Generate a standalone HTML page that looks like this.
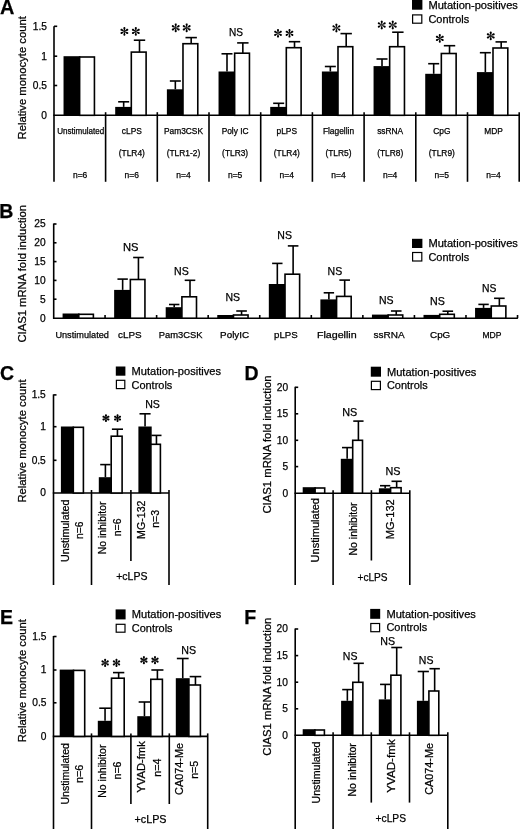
<!DOCTYPE html>
<html><head><meta charset="utf-8"><title>Figure</title>
<style>
html,body{margin:0;padding:0;background:#fff;}
body{width:520px;height:829px;overflow:hidden;}
svg{display:block;filter:grayscale(1);}
svg text{font-family:"Liberation Sans", sans-serif;fill:#000;stroke:#000;stroke-width:0.25px;}
svg line{stroke:#000;stroke-linecap:butt;}
</style></head>
<body>
<svg width="520" height="829" viewBox="0 0 520 829">
<rect width="520" height="829" fill="#fff"/>
<text x="0.1" y="14.3" font-size="19.5" font-weight="bold" textLength="14.4" lengthAdjust="spacingAndGlyphs">A</text>
<text x="25.8" y="77.8" font-size="11.2" text-anchor="middle" textLength="123.2" lengthAdjust="spacingAndGlyphs" transform="rotate(-90 25.8 77.8)">Relative monocyte count</text>
<line x1="54" y1="26.2" x2="54" y2="181.8" stroke-width="1.6"/>
<line x1="54" y1="26.3" x2="57.2" y2="26.3" stroke-width="1.6"/>
<text x="47" y="29.6" font-size="10.2" text-anchor="end">1.5</text>
<line x1="54" y1="56.2" x2="57.2" y2="56.2" stroke-width="1.6"/>
<text x="47" y="59.5" font-size="10.2" text-anchor="end">1</text>
<line x1="54" y1="85.5" x2="57.2" y2="85.5" stroke-width="1.6"/>
<text x="47" y="88.8" font-size="10.2" text-anchor="end">0.5</text>
<text x="47" y="118.6" font-size="10.2" text-anchor="end">0</text>
<line x1="53.3" y1="115.3" x2="519.5" y2="115.3" stroke-width="1.6"/>
<line x1="105.6" y1="112.2" x2="105.6" y2="181.8" stroke-width="1.6"/>
<line x1="157.3" y1="112.2" x2="157.3" y2="181.8" stroke-width="1.6"/>
<line x1="209" y1="112.2" x2="209" y2="181.8" stroke-width="1.6"/>
<line x1="260.7" y1="112.2" x2="260.7" y2="181.8" stroke-width="1.6"/>
<line x1="312.4" y1="112.2" x2="312.4" y2="181.8" stroke-width="1.6"/>
<line x1="364.1" y1="112.2" x2="364.1" y2="181.8" stroke-width="1.6"/>
<line x1="415.8" y1="112.2" x2="415.8" y2="181.8" stroke-width="1.6"/>
<line x1="467.5" y1="112.2" x2="467.5" y2="181.8" stroke-width="1.6"/>
<line x1="519.2" y1="112.2" x2="519.2" y2="181.8" stroke-width="1.6"/>
<text x="80.63" y="134.2" font-size="8.4" text-anchor="middle" textLength="47" lengthAdjust="spacingAndGlyphs">Unstimulated</text>
<text x="80.13" y="177.7" font-size="8.4" text-anchor="middle" textLength="14.4" lengthAdjust="spacingAndGlyphs">n=6</text>
<text x="131.81" y="134.2" font-size="8.4" text-anchor="middle">cLPS</text>
<text x="131.81" y="156.2" font-size="8.4" text-anchor="middle">(TLR4)</text>
<text x="131.81" y="177.7" font-size="8.4" text-anchor="middle" textLength="14.4" lengthAdjust="spacingAndGlyphs">n=6</text>
<text x="183.48" y="134.2" font-size="8.4" text-anchor="middle">Pam3CSK</text>
<text x="183.48" y="156.2" font-size="8.4" text-anchor="middle">(TLR1-2)</text>
<text x="183.48" y="177.7" font-size="8.4" text-anchor="middle" textLength="14.4" lengthAdjust="spacingAndGlyphs">n=4</text>
<text x="235.14" y="134.2" font-size="8.4" text-anchor="middle">Poly IC</text>
<text x="235.14" y="156.2" font-size="8.4" text-anchor="middle">(TLR3)</text>
<text x="235.14" y="177.7" font-size="8.4" text-anchor="middle" textLength="14.4" lengthAdjust="spacingAndGlyphs">n=5</text>
<text x="286.81" y="134.2" font-size="8.4" text-anchor="middle">pLPS</text>
<text x="286.81" y="156.2" font-size="8.4" text-anchor="middle">(TLR4)</text>
<text x="286.81" y="177.7" font-size="8.4" text-anchor="middle" textLength="14.4" lengthAdjust="spacingAndGlyphs">n=4</text>
<text x="338.49" y="134.2" font-size="8.4" text-anchor="middle">Flagellin</text>
<text x="338.49" y="156.2" font-size="8.4" text-anchor="middle">(TLR5)</text>
<text x="338.49" y="177.7" font-size="8.4" text-anchor="middle" textLength="14.4" lengthAdjust="spacingAndGlyphs">n=4</text>
<text x="390.16" y="134.2" font-size="8.4" text-anchor="middle">ssRNA</text>
<text x="390.16" y="156.2" font-size="8.4" text-anchor="middle">(TLR8)</text>
<text x="390.16" y="177.7" font-size="8.4" text-anchor="middle" textLength="14.4" lengthAdjust="spacingAndGlyphs">n=4</text>
<text x="441.83" y="134.2" font-size="8.4" text-anchor="middle">CpG</text>
<text x="441.83" y="156.2" font-size="8.4" text-anchor="middle">(TLR9)</text>
<text x="441.83" y="177.7" font-size="8.4" text-anchor="middle" textLength="14.4" lengthAdjust="spacingAndGlyphs">n=5</text>
<text x="493.5" y="134.2" font-size="8.4" text-anchor="middle">MDP</text>
<text x="493.5" y="177.7" font-size="8.4" text-anchor="middle" textLength="14.4" lengthAdjust="spacingAndGlyphs">n=4</text>
<rect x="63.53" y="56.2" width="16.9" height="59.1" fill="#000"/>
<rect x="79.63" y="57" width="14.8" height="58.3" fill="#fff" stroke="#000" stroke-width="1.6"/>
<rect x="115.2" y="106.9" width="16.9" height="8.4" fill="#000"/>
<rect x="131.31" y="52.1" width="14.8" height="63.2" fill="#fff" stroke="#000" stroke-width="1.6"/>
<line x1="123.66" y1="106.9" x2="123.66" y2="101.8" stroke-width="1.6"/>
<line x1="118.16" y1="101.8" x2="129.16" y2="101.8" stroke-width="1.6"/>
<line x1="139.5" y1="52.1" x2="139.5" y2="40.2" stroke-width="1.6"/>
<line x1="133.81" y1="40.2" x2="145.2" y2="40.2" stroke-width="1.6"/>
<rect x="166.88" y="89.3" width="16.9" height="26" fill="#000"/>
<rect x="182.98" y="43.7" width="14.8" height="71.6" fill="#fff" stroke="#000" stroke-width="1.6"/>
<line x1="175.33" y1="89.3" x2="175.33" y2="81" stroke-width="1.6"/>
<line x1="169.83" y1="81" x2="180.83" y2="81" stroke-width="1.6"/>
<line x1="191.18" y1="43.7" x2="191.18" y2="37.6" stroke-width="1.6"/>
<line x1="185.48" y1="37.6" x2="196.88" y2="37.6" stroke-width="1.6"/>
<rect x="218.54" y="71.5" width="16.9" height="43.8" fill="#000"/>
<rect x="234.65" y="53.2" width="14.8" height="62.1" fill="#fff" stroke="#000" stroke-width="1.6"/>
<line x1="227" y1="71.5" x2="227" y2="53.8" stroke-width="1.6"/>
<line x1="221.5" y1="53.8" x2="232.5" y2="53.8" stroke-width="1.6"/>
<line x1="242.84" y1="53.2" x2="242.84" y2="42.9" stroke-width="1.6"/>
<line x1="237.14" y1="42.9" x2="248.54" y2="42.9" stroke-width="1.6"/>
<rect x="270.22" y="106.9" width="16.9" height="8.4" fill="#000"/>
<rect x="286.31" y="47.7" width="14.8" height="67.6" fill="#fff" stroke="#000" stroke-width="1.6"/>
<line x1="278.67" y1="106.9" x2="278.67" y2="103.3" stroke-width="1.6"/>
<line x1="273.17" y1="103.3" x2="284.17" y2="103.3" stroke-width="1.6"/>
<line x1="294.51" y1="47.7" x2="294.51" y2="41.7" stroke-width="1.6"/>
<line x1="288.81" y1="41.7" x2="300.21" y2="41.7" stroke-width="1.6"/>
<rect x="321.89" y="71.5" width="16.9" height="43.8" fill="#000"/>
<rect x="337.99" y="46.7" width="14.8" height="68.6" fill="#fff" stroke="#000" stroke-width="1.6"/>
<line x1="330.34" y1="71.5" x2="330.34" y2="66.5" stroke-width="1.6"/>
<line x1="324.84" y1="66.5" x2="335.84" y2="66.5" stroke-width="1.6"/>
<line x1="346.19" y1="46.7" x2="346.19" y2="33.6" stroke-width="1.6"/>
<line x1="340.49" y1="33.6" x2="351.88" y2="33.6" stroke-width="1.6"/>
<rect x="373.56" y="66.1" width="16.9" height="49.2" fill="#000"/>
<rect x="389.66" y="46.7" width="14.8" height="68.6" fill="#fff" stroke="#000" stroke-width="1.6"/>
<line x1="382.01" y1="66.1" x2="382.01" y2="59" stroke-width="1.6"/>
<line x1="376.51" y1="59" x2="387.51" y2="59" stroke-width="1.6"/>
<line x1="397.86" y1="46.7" x2="397.86" y2="32.2" stroke-width="1.6"/>
<line x1="392.16" y1="32.2" x2="403.56" y2="32.2" stroke-width="1.6"/>
<rect x="425.23" y="73.8" width="16.9" height="41.5" fill="#000"/>
<rect x="441.33" y="53.5" width="14.8" height="61.8" fill="#fff" stroke="#000" stroke-width="1.6"/>
<line x1="433.68" y1="73.8" x2="433.68" y2="63.7" stroke-width="1.6"/>
<line x1="428.18" y1="63.7" x2="439.18" y2="63.7" stroke-width="1.6"/>
<line x1="449.53" y1="53.5" x2="449.53" y2="45.7" stroke-width="1.6"/>
<line x1="443.83" y1="45.7" x2="455.23" y2="45.7" stroke-width="1.6"/>
<rect x="476.9" y="72.1" width="16.9" height="43.2" fill="#000"/>
<rect x="493" y="48" width="14.8" height="67.3" fill="#fff" stroke="#000" stroke-width="1.6"/>
<line x1="485.35" y1="72.1" x2="485.35" y2="52.7" stroke-width="1.6"/>
<line x1="479.85" y1="52.7" x2="490.85" y2="52.7" stroke-width="1.6"/>
<line x1="501.19" y1="48" x2="501.19" y2="41.9" stroke-width="1.6"/>
<line x1="495.5" y1="41.9" x2="506.89" y2="41.9" stroke-width="1.6"/>
<path d="M124.38,31.75L125.37,28.38L125.42,28.05L125.37,27.73L125.23,27.43L124.99,27.2L124.7,27.05L124.38,27L124.05,27.05L123.76,27.2L123.52,27.43L123.38,27.73L123.33,28.05L123.38,28.38ZM124.68,31.57L122.26,29.03L122,28.82L121.7,28.7L121.37,28.68L121.05,28.77L120.77,28.94L120.56,29.2L120.45,29.51L120.43,29.84L120.52,30.15L120.7,30.43L120.95,30.64L121.26,30.75ZM124.68,31.22L121.26,32.05L120.95,32.16L120.7,32.37L120.52,32.65L120.43,32.96L120.45,33.29L120.56,33.6L120.77,33.86L121.05,34.03L121.37,34.12L121.7,34.1L122,33.98L122.26,33.77ZM124.38,31.05L123.38,34.42L123.33,34.75L123.38,35.07L123.52,35.37L123.76,35.6L124.05,35.75L124.38,35.8L124.7,35.75L124.99,35.6L125.23,35.37L125.37,35.07L125.42,34.75L125.37,34.42ZM124.07,31.22L126.49,33.77L126.75,33.98L127.05,34.1L127.38,34.12L127.7,34.03L127.98,33.86L128.19,33.6L128.3,33.29L128.32,32.96L128.23,32.65L128.05,32.37L127.8,32.16L127.49,32.05ZM124.07,31.57L127.49,30.75L127.8,30.64L128.05,30.43L128.23,30.15L128.32,29.84L128.3,29.51L128.19,29.2L127.98,28.94L127.7,28.77L127.38,28.68L127.05,28.7L126.75,28.82L126.49,29.03Z" fill="#000"/>
<path d="M135.82,31.75L136.82,28.38L136.87,28.05L136.82,27.73L136.68,27.43L136.44,27.2L136.15,27.05L135.82,27L135.5,27.05L135.21,27.2L134.97,27.43L134.83,27.73L134.78,28.05L134.83,28.38ZM136.13,31.57L133.71,29.03L133.45,28.82L133.15,28.7L132.82,28.68L132.5,28.77L132.22,28.94L132.01,29.2L131.9,29.51L131.88,29.84L131.97,30.15L132.15,30.43L132.4,30.64L132.71,30.75ZM136.13,31.22L132.71,32.05L132.4,32.16L132.15,32.37L131.97,32.65L131.88,32.96L131.9,33.29L132.01,33.6L132.22,33.86L132.5,34.03L132.82,34.12L133.15,34.1L133.45,33.98L133.71,33.77ZM135.82,31.05L134.83,34.42L134.78,34.75L134.83,35.07L134.97,35.37L135.21,35.6L135.5,35.75L135.82,35.8L136.15,35.75L136.44,35.6L136.68,35.37L136.82,35.07L136.87,34.75L136.82,34.42ZM135.52,31.22L137.94,33.77L138.2,33.98L138.5,34.1L138.83,34.12L139.15,34.03L139.43,33.86L139.64,33.6L139.75,33.29L139.77,32.96L139.68,32.65L139.5,32.37L139.25,32.16L138.94,32.05ZM135.52,31.57L138.94,30.75L139.25,30.64L139.5,30.43L139.68,30.15L139.77,29.84L139.75,29.51L139.64,29.2L139.43,28.94L139.15,28.77L138.83,28.68L138.5,28.7L138.2,28.82L137.94,29.03Z" fill="#000"/>
<path d="M175.72,28.15L176.72,24.78L176.77,24.45L176.72,24.13L176.58,23.83L176.34,23.6L176.05,23.45L175.72,23.4L175.4,23.45L175.11,23.6L174.87,23.83L174.73,24.13L174.68,24.45L174.73,24.78ZM176.03,27.98L173.61,25.43L173.35,25.22L173.05,25.1L172.72,25.08L172.4,25.17L172.12,25.34L171.91,25.6L171.8,25.91L171.78,26.24L171.87,26.55L172.05,26.83L172.3,27.04L172.61,27.15ZM176.03,27.62L172.61,28.45L172.3,28.56L172.05,28.77L171.87,29.05L171.78,29.36L171.8,29.69L171.91,30L172.12,30.26L172.4,30.43L172.72,30.52L173.05,30.5L173.35,30.38L173.61,30.17ZM175.72,27.45L174.73,30.82L174.68,31.15L174.73,31.47L174.87,31.77L175.11,32L175.4,32.15L175.72,32.2L176.05,32.15L176.34,32L176.58,31.77L176.72,31.47L176.77,31.15L176.72,30.82ZM175.42,27.62L177.84,30.17L178.1,30.38L178.4,30.5L178.73,30.52L179.05,30.43L179.33,30.26L179.54,30L179.65,29.69L179.67,29.36L179.58,29.05L179.4,28.77L179.15,28.56L178.84,28.45ZM175.42,27.98L178.84,27.15L179.15,27.04L179.4,26.83L179.58,26.55L179.67,26.24L179.65,25.91L179.54,25.6L179.33,25.34L179.05,25.17L178.73,25.08L178.4,25.1L178.1,25.22L177.84,25.43Z" fill="#000"/>
<path d="M186.68,28.15L187.67,24.78L187.72,24.45L187.67,24.13L187.53,23.83L187.29,23.6L187,23.45L186.68,23.4L186.35,23.45L186.06,23.6L185.82,23.83L185.68,24.13L185.63,24.45L185.68,24.78ZM186.98,27.98L184.56,25.43L184.3,25.22L184,25.1L183.67,25.08L183.35,25.17L183.07,25.34L182.86,25.6L182.75,25.91L182.73,26.24L182.82,26.55L183,26.83L183.25,27.04L183.56,27.15ZM186.98,27.62L183.56,28.45L183.25,28.56L183,28.77L182.82,29.05L182.73,29.36L182.75,29.69L182.86,30L183.07,30.26L183.35,30.43L183.67,30.52L184,30.5L184.3,30.38L184.56,30.17ZM186.68,27.45L185.68,30.82L185.63,31.15L185.68,31.47L185.82,31.77L186.06,32L186.35,32.15L186.68,32.2L187,32.15L187.29,32L187.53,31.77L187.67,31.47L187.72,31.15L187.67,30.82ZM186.37,27.62L188.79,30.17L189.05,30.38L189.35,30.5L189.68,30.52L190,30.43L190.28,30.26L190.49,30L190.6,29.69L190.62,29.36L190.53,29.05L190.35,28.77L190.1,28.56L189.79,28.45ZM186.37,27.98L189.79,27.15L190.1,27.04L190.35,26.83L190.53,26.55L190.62,26.24L190.6,25.91L190.49,25.6L190.28,25.34L190,25.17L189.68,25.08L189.35,25.1L189.05,25.22L188.79,25.43Z" fill="#000"/>
<text x="236" y="36.2" font-size="10.7" text-anchor="middle" textLength="14" lengthAdjust="spacingAndGlyphs">NS</text>
<path d="M278,33.65L278.99,30.39L279.05,30.06L279,29.74L278.85,29.44L278.62,29.2L278.33,29.05L278,29L277.67,29.05L277.38,29.2L277.15,29.44L277,29.74L276.95,30.06L277.01,30.39ZM278.3,33.47L275.98,30.98L275.72,30.77L275.41,30.65L275.08,30.63L274.76,30.71L274.48,30.89L274.28,31.15L274.16,31.46L274.14,31.79L274.23,32.11L274.41,32.39L274.67,32.59L274.98,32.71ZM278.3,33.12L274.98,33.89L274.67,34.01L274.41,34.21L274.23,34.49L274.14,34.81L274.16,35.14L274.28,35.45L274.48,35.71L274.76,35.89L275.08,35.97L275.41,35.95L275.72,35.83L275.98,35.62ZM278,32.95L277.01,36.21L276.95,36.54L277,36.86L277.15,37.16L277.38,37.4L277.67,37.55L278,37.6L278.33,37.55L278.62,37.4L278.85,37.16L279,36.86L279.05,36.54L278.99,36.21ZM277.7,33.12L280.02,35.62L280.28,35.83L280.59,35.95L280.92,35.97L281.24,35.89L281.52,35.71L281.72,35.45L281.84,35.14L281.86,34.81L281.77,34.49L281.59,34.21L281.33,34.01L281.02,33.89ZM277.7,33.47L281.02,32.71L281.33,32.59L281.59,32.39L281.77,32.11L281.86,31.79L281.84,31.46L281.72,31.15L281.52,30.89L281.24,30.71L280.92,30.63L280.59,30.65L280.28,30.77L280.02,30.98Z" fill="#000"/>
<path d="M289.5,33.65L290.49,30.39L290.55,30.06L290.5,29.74L290.35,29.44L290.12,29.2L289.83,29.05L289.5,29L289.17,29.05L288.88,29.2L288.65,29.44L288.5,29.74L288.45,30.06L288.51,30.39ZM289.8,33.47L287.48,30.98L287.22,30.77L286.91,30.65L286.58,30.63L286.26,30.71L285.98,30.89L285.78,31.15L285.66,31.46L285.64,31.79L285.73,32.11L285.91,32.39L286.17,32.59L286.48,32.71ZM289.8,33.12L286.48,33.89L286.17,34.01L285.91,34.21L285.73,34.49L285.64,34.81L285.66,35.14L285.78,35.45L285.98,35.71L286.26,35.89L286.58,35.97L286.91,35.95L287.22,35.83L287.48,35.62ZM289.5,32.95L288.51,36.21L288.45,36.54L288.5,36.86L288.65,37.16L288.88,37.4L289.17,37.55L289.5,37.6L289.83,37.55L290.12,37.4L290.35,37.16L290.5,36.86L290.55,36.54L290.49,36.21ZM289.2,33.12L291.52,35.62L291.78,35.83L292.09,35.95L292.42,35.97L292.74,35.89L293.02,35.71L293.22,35.45L293.34,35.14L293.36,34.81L293.27,34.49L293.09,34.21L292.83,34.01L292.52,33.89ZM289.2,33.47L292.52,32.71L292.83,32.59L293.09,32.39L293.27,32.11L293.36,31.79L293.34,31.46L293.22,31.15L293.02,30.89L292.74,30.71L292.42,30.63L292.09,30.65L291.78,30.77L291.52,30.98Z" fill="#000"/>
<path d="M336.4,28.35L337.4,24.98L337.45,24.65L337.4,24.33L337.25,24.03L337.02,23.8L336.73,23.65L336.4,23.6L336.07,23.65L335.78,23.8L335.55,24.03L335.4,24.33L335.35,24.65L335.4,24.98ZM336.7,28.18L334.28,25.63L334.03,25.42L333.72,25.3L333.39,25.28L333.07,25.37L332.8,25.54L332.59,25.8L332.47,26.11L332.45,26.44L332.54,26.75L332.72,27.03L332.98,27.24L333.29,27.35ZM336.7,27.82L333.29,28.65L332.98,28.76L332.72,28.97L332.54,29.25L332.45,29.56L332.47,29.89L332.59,30.2L332.8,30.46L333.07,30.63L333.39,30.72L333.72,30.7L334.03,30.58L334.28,30.37ZM336.4,27.65L335.4,31.02L335.35,31.35L335.4,31.67L335.55,31.97L335.78,32.2L336.07,32.35L336.4,32.4L336.73,32.35L337.02,32.2L337.25,31.97L337.4,31.67L337.45,31.35L337.4,31.02ZM336.1,27.82L338.52,30.37L338.77,30.58L339.08,30.7L339.41,30.72L339.73,30.63L340,30.46L340.21,30.2L340.33,29.89L340.35,29.56L340.26,29.25L340.08,28.97L339.82,28.76L339.51,28.65ZM336.1,28.18L339.51,27.35L339.82,27.24L340.08,27.03L340.26,26.75L340.35,26.44L340.33,26.11L340.21,25.8L340,25.54L339.73,25.37L339.41,25.28L339.08,25.3L338.77,25.42L338.52,25.63Z" fill="#000"/>
<path d="M381.75,25.35L382.75,21.98L382.8,21.65L382.75,21.33L382.6,21.03L382.37,20.8L382.08,20.65L381.75,20.6L381.42,20.65L381.13,20.8L380.9,21.03L380.75,21.33L380.7,21.65L380.75,21.98ZM382.05,25.18L379.63,22.63L379.38,22.42L379.07,22.3L378.74,22.28L378.42,22.37L378.15,22.54L377.94,22.8L377.82,23.11L377.8,23.44L377.89,23.75L378.07,24.03L378.33,24.24L378.64,24.35ZM382.05,24.82L378.64,25.65L378.33,25.76L378.07,25.97L377.89,26.25L377.8,26.56L377.82,26.89L377.94,27.2L378.15,27.46L378.42,27.63L378.74,27.72L379.07,27.7L379.38,27.58L379.63,27.37ZM381.75,24.65L380.75,28.02L380.7,28.35L380.75,28.67L380.9,28.97L381.13,29.2L381.42,29.35L381.75,29.4L382.08,29.35L382.37,29.2L382.6,28.97L382.75,28.67L382.8,28.35L382.75,28.02ZM381.45,24.82L383.87,27.37L384.12,27.58L384.43,27.7L384.76,27.72L385.08,27.63L385.35,27.46L385.56,27.2L385.68,26.89L385.7,26.56L385.61,26.25L385.43,25.97L385.17,25.76L384.86,25.65ZM381.45,25.18L384.86,24.35L385.17,24.24L385.43,24.03L385.61,23.75L385.7,23.44L385.68,23.11L385.56,22.8L385.35,22.54L385.08,22.37L384.76,22.28L384.43,22.3L384.12,22.42L383.87,22.63Z" fill="#000"/>
<path d="M392.75,25.35L393.75,21.98L393.8,21.65L393.75,21.33L393.6,21.03L393.37,20.8L393.08,20.65L392.75,20.6L392.42,20.65L392.13,20.8L391.9,21.03L391.75,21.33L391.7,21.65L391.75,21.98ZM393.05,25.18L390.63,22.63L390.38,22.42L390.07,22.3L389.74,22.28L389.42,22.37L389.15,22.54L388.94,22.8L388.82,23.11L388.8,23.44L388.89,23.75L389.07,24.03L389.33,24.24L389.64,24.35ZM393.05,24.82L389.64,25.65L389.33,25.76L389.07,25.97L388.89,26.25L388.8,26.56L388.82,26.89L388.94,27.2L389.15,27.46L389.42,27.63L389.74,27.72L390.07,27.7L390.38,27.58L390.63,27.37ZM392.75,24.65L391.75,28.02L391.7,28.35L391.75,28.67L391.9,28.97L392.13,29.2L392.42,29.35L392.75,29.4L393.08,29.35L393.37,29.2L393.6,28.97L393.75,28.67L393.8,28.35L393.75,28.02ZM392.45,24.82L394.87,27.37L395.12,27.58L395.43,27.7L395.76,27.72L396.08,27.63L396.35,27.46L396.56,27.2L396.68,26.89L396.7,26.56L396.61,26.25L396.43,25.97L396.17,25.76L395.86,25.65ZM392.45,25.18L395.86,24.35L396.17,24.24L396.43,24.03L396.61,23.75L396.7,23.44L396.68,23.11L396.56,22.8L396.35,22.54L396.08,22.37L395.76,22.28L395.43,22.3L395.12,22.42L394.87,22.63Z" fill="#000"/>
<path d="M439.8,38.75L440.8,35.38L440.85,35.05L440.8,34.73L440.65,34.43L440.42,34.2L440.13,34.05L439.8,34L439.47,34.05L439.18,34.2L438.95,34.43L438.8,34.73L438.75,35.05L438.8,35.38ZM440.1,38.57L437.68,36.03L437.43,35.82L437.12,35.7L436.79,35.68L436.47,35.77L436.2,35.94L435.99,36.2L435.87,36.51L435.85,36.84L435.94,37.15L436.12,37.43L436.38,37.64L436.69,37.75ZM440.1,38.23L436.69,39.05L436.38,39.16L436.12,39.37L435.94,39.65L435.85,39.96L435.87,40.29L435.99,40.6L436.2,40.86L436.47,41.03L436.79,41.12L437.12,41.1L437.43,40.98L437.68,40.77ZM439.8,38.05L438.8,41.42L438.75,41.75L438.8,42.07L438.95,42.37L439.18,42.6L439.47,42.75L439.8,42.8L440.13,42.75L440.42,42.6L440.65,42.37L440.8,42.07L440.85,41.75L440.8,41.42ZM439.5,38.23L441.92,40.77L442.17,40.98L442.48,41.1L442.81,41.12L443.13,41.03L443.4,40.86L443.61,40.6L443.73,40.29L443.75,39.96L443.66,39.65L443.48,39.37L443.22,39.16L442.91,39.05ZM439.5,38.57L442.91,37.75L443.22,37.64L443.48,37.43L443.66,37.15L443.75,36.84L443.73,36.51L443.61,36.2L443.4,35.94L443.13,35.77L442.81,35.68L442.48,35.7L442.17,35.82L441.92,36.03Z" fill="#000"/>
<path d="M490.75,36.25L491.75,32.88L491.8,32.55L491.75,32.23L491.6,31.93L491.37,31.7L491.08,31.55L490.75,31.5L490.42,31.55L490.13,31.7L489.9,31.93L489.75,32.23L489.7,32.55L489.75,32.88ZM491.05,36.07L488.63,33.53L488.38,33.32L488.07,33.2L487.74,33.18L487.42,33.27L487.15,33.44L486.94,33.7L486.82,34.01L486.8,34.34L486.89,34.65L487.07,34.93L487.33,35.14L487.64,35.25ZM491.05,35.73L487.64,36.55L487.33,36.66L487.07,36.87L486.89,37.15L486.8,37.46L486.82,37.79L486.94,38.1L487.15,38.36L487.42,38.53L487.74,38.62L488.07,38.6L488.38,38.48L488.63,38.27ZM490.75,35.55L489.75,38.92L489.7,39.25L489.75,39.57L489.9,39.87L490.13,40.1L490.42,40.25L490.75,40.3L491.08,40.25L491.37,40.1L491.6,39.87L491.75,39.57L491.8,39.25L491.75,38.92ZM490.45,35.73L492.87,38.27L493.12,38.48L493.43,38.6L493.76,38.62L494.08,38.53L494.35,38.36L494.56,38.1L494.68,37.79L494.7,37.46L494.61,37.15L494.43,36.87L494.17,36.66L493.86,36.55ZM490.45,36.07L493.86,35.25L494.17,35.14L494.43,34.93L494.61,34.65L494.7,34.34L494.68,34.01L494.56,33.7L494.35,33.44L494.08,33.27L493.76,33.18L493.43,33.2L493.12,33.32L492.87,33.53Z" fill="#000"/>
<rect x="412" y="-0.5" width="10.4" height="10.2" fill="#000"/>
<rect x="412.6" y="14.9" width="9.2" height="8.3" fill="#fff" stroke="#000" stroke-width="1.2"/>
<text x="428.4" y="8.5" font-size="11.2" textLength="89.5" lengthAdjust="spacingAndGlyphs">Mutation-positives</text>
<text x="428.4" y="23" font-size="11.2" textLength="40.8" lengthAdjust="spacingAndGlyphs">Controls</text>
<text x="-0.8" y="218" font-size="19.5" font-weight="bold">B</text>
<text x="25.8" y="273.75" font-size="11.2" text-anchor="middle" textLength="137.7" lengthAdjust="spacingAndGlyphs" transform="rotate(-90 25.8 273.75)">CIAS1 mRNA fold induction</text>
<line x1="53.7" y1="223.5" x2="53.7" y2="318.9" stroke-width="1.6"/>
<line x1="53.7" y1="224" x2="56.5" y2="224" stroke-width="1.6"/>
<text x="45.7" y="227.3" font-size="10.2" text-anchor="end">25</text>
<line x1="53.7" y1="242.8" x2="56.5" y2="242.8" stroke-width="1.6"/>
<text x="45.7" y="246.1" font-size="10.2" text-anchor="end">20</text>
<line x1="53.7" y1="261.6" x2="56.5" y2="261.6" stroke-width="1.6"/>
<text x="45.7" y="264.9" font-size="10.2" text-anchor="end">15</text>
<line x1="53.7" y1="280.4" x2="56.5" y2="280.4" stroke-width="1.6"/>
<text x="45.7" y="283.7" font-size="10.2" text-anchor="end">10</text>
<line x1="53.7" y1="299.2" x2="56.5" y2="299.2" stroke-width="1.6"/>
<text x="45.7" y="302.5" font-size="10.2" text-anchor="end">5</text>
<text x="45.7" y="321.5" font-size="10.2" text-anchor="end">0</text>
<line x1="53" y1="318.2" x2="517.9" y2="318.2" stroke-width="1.6"/>
<line x1="105.06" y1="315" x2="105.06" y2="318.2" stroke-width="1.6"/>
<line x1="156.62" y1="315" x2="156.62" y2="318.2" stroke-width="1.6"/>
<line x1="208.18" y1="315" x2="208.18" y2="318.2" stroke-width="1.6"/>
<line x1="259.74" y1="315" x2="259.74" y2="318.2" stroke-width="1.6"/>
<line x1="311.3" y1="315" x2="311.3" y2="318.2" stroke-width="1.6"/>
<line x1="362.86" y1="315" x2="362.86" y2="318.2" stroke-width="1.6"/>
<line x1="414.42" y1="315" x2="414.42" y2="318.2" stroke-width="1.6"/>
<line x1="465.98" y1="315" x2="465.98" y2="318.2" stroke-width="1.6"/>
<line x1="517.54" y1="315" x2="517.54" y2="318.2" stroke-width="1.6"/>
<text x="82.15" y="338.3" font-size="9.4" text-anchor="middle" textLength="53.5" lengthAdjust="spacingAndGlyphs">Unstimulated</text>
<text x="129.85" y="338.3" font-size="9.4" text-anchor="middle" textLength="23.7" lengthAdjust="spacingAndGlyphs">cLPS</text>
<text x="180.7" y="338.3" font-size="9.4" text-anchor="middle" textLength="43.8" lengthAdjust="spacingAndGlyphs">Pam3CSK</text>
<text x="234.6" y="338.3" font-size="9.4" text-anchor="middle" textLength="29" lengthAdjust="spacingAndGlyphs">PolyIC</text>
<text x="285.85" y="338.3" font-size="9.4" text-anchor="middle" textLength="23.7" lengthAdjust="spacingAndGlyphs">pLPS</text>
<text x="336.8" y="338.3" font-size="9.4" text-anchor="middle" textLength="39.8" lengthAdjust="spacingAndGlyphs">Flagellin</text>
<text x="389.15" y="338.3" font-size="9.4" text-anchor="middle" textLength="31.1" lengthAdjust="spacingAndGlyphs">ssRNA</text>
<text x="440.15" y="338.3" font-size="9.4" text-anchor="middle" textLength="20.3" lengthAdjust="spacingAndGlyphs">CpG</text>
<text x="492" y="338.3" font-size="9.4" text-anchor="middle" textLength="19" lengthAdjust="spacingAndGlyphs">MDP</text>
<rect x="62.58" y="313.5" width="17" height="4.7" fill="#000"/>
<rect x="78.78" y="314.3" width="14.6" height="3.9" fill="#fff" stroke="#000" stroke-width="1.6"/>
<rect x="114.14" y="289.9" width="17" height="28.3" fill="#000"/>
<rect x="130.34" y="279.5" width="14.6" height="38.7" fill="#fff" stroke="#000" stroke-width="1.6"/>
<line x1="122.64" y1="289.9" x2="122.64" y2="279.1" stroke-width="1.6"/>
<line x1="117.44" y1="279.1" x2="127.84" y2="279.1" stroke-width="1.6"/>
<line x1="138.44" y1="279.5" x2="138.44" y2="257.5" stroke-width="1.6"/>
<line x1="133.14" y1="257.5" x2="143.74" y2="257.5" stroke-width="1.6"/>
<rect x="165.7" y="307.2" width="17" height="11" fill="#000"/>
<rect x="181.9" y="296.8" width="14.6" height="21.4" fill="#fff" stroke="#000" stroke-width="1.6"/>
<line x1="174.2" y1="307.2" x2="174.2" y2="304.5" stroke-width="1.6"/>
<line x1="169" y1="304.5" x2="179.4" y2="304.5" stroke-width="1.6"/>
<line x1="190" y1="296.8" x2="190" y2="280.3" stroke-width="1.6"/>
<line x1="184.7" y1="280.3" x2="195.3" y2="280.3" stroke-width="1.6"/>
<rect x="217.26" y="315" width="17" height="3.2" fill="#000"/>
<rect x="233.46" y="315" width="14.6" height="3.2" fill="#fff" stroke="#000" stroke-width="1.6"/>
<line x1="241.56" y1="315" x2="241.56" y2="311" stroke-width="1.6"/>
<line x1="236.26" y1="311" x2="246.86" y2="311" stroke-width="1.6"/>
<rect x="268.82" y="284" width="17" height="34.2" fill="#000"/>
<rect x="285.02" y="274.2" width="14.6" height="44" fill="#fff" stroke="#000" stroke-width="1.6"/>
<line x1="277.32" y1="284" x2="277.32" y2="263.4" stroke-width="1.6"/>
<line x1="272.12" y1="263.4" x2="282.52" y2="263.4" stroke-width="1.6"/>
<line x1="293.12" y1="274.2" x2="293.12" y2="245.9" stroke-width="1.6"/>
<line x1="287.82" y1="245.9" x2="298.42" y2="245.9" stroke-width="1.6"/>
<rect x="320.38" y="299.4" width="17" height="18.8" fill="#000"/>
<rect x="336.58" y="296.4" width="14.6" height="21.8" fill="#fff" stroke="#000" stroke-width="1.6"/>
<line x1="328.88" y1="299.4" x2="328.88" y2="292.8" stroke-width="1.6"/>
<line x1="323.68" y1="292.8" x2="334.08" y2="292.8" stroke-width="1.6"/>
<line x1="344.68" y1="296.4" x2="344.68" y2="280.1" stroke-width="1.6"/>
<line x1="339.38" y1="280.1" x2="349.98" y2="280.1" stroke-width="1.6"/>
<rect x="371.94" y="314.6" width="17" height="3.6" fill="#000"/>
<rect x="388.14" y="315" width="14.6" height="3.2" fill="#fff" stroke="#000" stroke-width="1.6"/>
<line x1="396.24" y1="315" x2="396.24" y2="311" stroke-width="1.6"/>
<line x1="390.94" y1="311" x2="401.54" y2="311" stroke-width="1.6"/>
<rect x="423.5" y="314.9" width="17" height="3.3" fill="#000"/>
<rect x="439.7" y="314.3" width="14.6" height="3.9" fill="#fff" stroke="#000" stroke-width="1.6"/>
<line x1="447.8" y1="314.3" x2="447.8" y2="311.2" stroke-width="1.6"/>
<line x1="442.5" y1="311.2" x2="453.1" y2="311.2" stroke-width="1.6"/>
<rect x="475.06" y="307.9" width="17" height="10.3" fill="#000"/>
<rect x="491.26" y="306" width="14.6" height="12.2" fill="#fff" stroke="#000" stroke-width="1.6"/>
<line x1="483.56" y1="307.9" x2="483.56" y2="304.4" stroke-width="1.6"/>
<line x1="478.36" y1="304.4" x2="488.76" y2="304.4" stroke-width="1.6"/>
<line x1="499.36" y1="306" x2="499.36" y2="298.3" stroke-width="1.6"/>
<line x1="494.06" y1="298.3" x2="504.66" y2="298.3" stroke-width="1.6"/>
<text x="130.65" y="251" font-size="10.7" text-anchor="middle" textLength="15.5" lengthAdjust="spacingAndGlyphs">NS</text>
<text x="181.45" y="275.3" font-size="10.7" text-anchor="middle" textLength="14.7" lengthAdjust="spacingAndGlyphs">NS</text>
<text x="232.8" y="301.1" font-size="10.7" text-anchor="middle" textLength="14.6" lengthAdjust="spacingAndGlyphs">NS</text>
<text x="284.6" y="239.3" font-size="10.7" text-anchor="middle" textLength="14.6" lengthAdjust="spacingAndGlyphs">NS</text>
<text x="334.9" y="274.9" font-size="10.7" text-anchor="middle" textLength="14.6" lengthAdjust="spacingAndGlyphs">NS</text>
<text x="386.3" y="304.3" font-size="10.7" text-anchor="middle" textLength="14.6" lengthAdjust="spacingAndGlyphs">NS</text>
<text x="437.5" y="304.8" font-size="10.7" text-anchor="middle" textLength="14.8" lengthAdjust="spacingAndGlyphs">NS</text>
<text x="489.2" y="292.1" font-size="10.7" text-anchor="middle" textLength="14.4" lengthAdjust="spacingAndGlyphs">NS</text>
<rect x="412" y="238.8" width="10.4" height="9.2" fill="#000"/>
<rect x="412.6" y="252.5" width="9.2" height="8.5" fill="#fff" stroke="#000" stroke-width="1.2"/>
<text x="428.4" y="247.3" font-size="11.2" textLength="89.5" lengthAdjust="spacingAndGlyphs">Mutation-positives</text>
<text x="428.4" y="260.5" font-size="11.2" textLength="40.8" lengthAdjust="spacingAndGlyphs">Controls</text>
<text x="-0.1" y="379.6" font-size="19.5" font-weight="bold">C</text>
<text x="25.8" y="441" font-size="11.2" text-anchor="middle" textLength="123.2" lengthAdjust="spacingAndGlyphs" transform="rotate(-90 25.8 441)">Relative monocyte count</text>
<line x1="53.5" y1="394.4" x2="53.5" y2="585" stroke-width="1.6"/>
<line x1="53.5" y1="394.9" x2="56.5" y2="394.9" stroke-width="1.6"/>
<text x="45.8" y="398.2" font-size="10.2" text-anchor="end">1.5</text>
<line x1="53.5" y1="426.7" x2="56.5" y2="426.7" stroke-width="1.6"/>
<text x="45.8" y="430" font-size="10.2" text-anchor="end">1</text>
<line x1="53.5" y1="460.3" x2="56.5" y2="460.3" stroke-width="1.6"/>
<text x="45.8" y="463.6" font-size="10.2" text-anchor="end">0.5</text>
<text x="45.8" y="496.3" font-size="10.2" text-anchor="end">0</text>
<line x1="52.8" y1="493" x2="169" y2="493" stroke-width="1.6"/>
<line x1="91.5" y1="490" x2="91.5" y2="585" stroke-width="1.6"/>
<line x1="130.9" y1="490" x2="130.9" y2="561" stroke-width="1.6"/>
<line x1="169" y1="490" x2="169" y2="585" stroke-width="1.6"/>
<text x="68.7" y="562" font-size="10.5" textLength="62.5" lengthAdjust="spacingAndGlyphs" transform="rotate(-90 68.7 562)">Unstimulated</text>
<text x="82.6" y="538.9" font-size="10.5" textLength="17.4" lengthAdjust="spacingAndGlyphs" transform="rotate(-90 82.6 538.9)">n=6</text>
<text x="106.4" y="554.3" font-size="10.5" textLength="52.8" lengthAdjust="spacingAndGlyphs" transform="rotate(-90 106.4 554.3)">No inhibitor</text>
<text x="121" y="536.2" font-size="10.5" textLength="17.7" lengthAdjust="spacingAndGlyphs" transform="rotate(-90 121 536.2)">n=6</text>
<text x="144.6" y="538.9" font-size="10.5" textLength="38.4" lengthAdjust="spacingAndGlyphs" transform="rotate(-90 144.6 538.9)">MG-132</text>
<text x="159.5" y="527.7" font-size="10.5" textLength="17.7" lengthAdjust="spacingAndGlyphs" transform="rotate(-90 159.5 527.7)">n=3</text>
<text x="131.8" y="580" font-size="10.5" text-anchor="middle" textLength="31.2" lengthAdjust="spacingAndGlyphs">+cLPS</text>
<rect x="60.9" y="426.5" width="13.2" height="66.5" fill="#000"/>
<rect x="73.3" y="427.3" width="10.1" height="65.7" fill="#fff" stroke="#000" stroke-width="1.6"/>
<rect x="98.8" y="477.2" width="13.2" height="15.8" fill="#000"/>
<rect x="111.2" y="436.2" width="10.9" height="56.8" fill="#fff" stroke="#000" stroke-width="1.6"/>
<line x1="105.4" y1="477.2" x2="105.4" y2="464.6" stroke-width="1.6"/>
<line x1="100.2" y1="464.6" x2="110.6" y2="464.6" stroke-width="1.6"/>
<line x1="117.45" y1="436.2" x2="117.45" y2="429.2" stroke-width="1.6"/>
<line x1="111.9" y1="429.2" x2="123" y2="429.2" stroke-width="1.6"/>
<rect x="138.4" y="426.5" width="13.3" height="66.5" fill="#000"/>
<rect x="150.9" y="444.3" width="9.5" height="48.7" fill="#fff" stroke="#000" stroke-width="1.6"/>
<line x1="145.05" y1="426.5" x2="145.05" y2="413.8" stroke-width="1.6"/>
<line x1="139.5" y1="413.8" x2="150.6" y2="413.8" stroke-width="1.6"/>
<line x1="156.45" y1="444.3" x2="156.45" y2="435.4" stroke-width="1.6"/>
<line x1="151.4" y1="435.4" x2="161.5" y2="435.4" stroke-width="1.6"/>
<path d="M105.95,418.45L106.93,415.64L107,415.31L106.96,414.97L106.82,414.66L106.58,414.41L106.28,414.25L105.95,414.2L105.62,414.25L105.32,414.41L105.08,414.66L104.94,414.97L104.9,415.31L104.97,415.64ZM106.25,418.28L104.3,416.02L104.05,415.79L103.74,415.66L103.41,415.63L103.08,415.71L102.79,415.89L102.57,416.15L102.45,416.47L102.44,416.81L102.54,417.13L102.73,417.41L103.01,417.61L103.33,417.71ZM106.25,417.93L103.33,418.49L103.01,418.59L102.73,418.79L102.54,419.07L102.44,419.39L102.45,419.73L102.57,420.05L102.79,420.31L103.08,420.49L103.41,420.57L103.74,420.54L104.05,420.41L104.3,420.18ZM105.95,417.75L104.97,420.56L104.9,420.89L104.94,421.23L105.08,421.54L105.32,421.79L105.62,421.95L105.95,422L106.28,421.95L106.58,421.79L106.82,421.54L106.96,421.23L107,420.89L106.93,420.56ZM105.65,417.93L107.6,420.18L107.85,420.41L108.16,420.54L108.49,420.57L108.82,420.49L109.11,420.31L109.33,420.05L109.45,419.73L109.46,419.39L109.36,419.07L109.17,418.79L108.89,418.59L108.57,418.49ZM105.65,418.28L108.57,417.71L108.89,417.61L109.17,417.41L109.36,417.13L109.46,416.81L109.45,416.47L109.33,416.15L109.11,415.89L108.82,415.71L108.49,415.63L108.16,415.66L107.85,415.79L107.6,416.02Z" fill="#000"/>
<path d="M117.55,418.45L118.53,415.64L118.6,415.31L118.56,414.97L118.42,414.66L118.18,414.41L117.88,414.25L117.55,414.2L117.22,414.25L116.92,414.41L116.68,414.66L116.54,414.97L116.5,415.31L116.57,415.64ZM117.85,418.28L115.9,416.02L115.65,415.79L115.34,415.66L115.01,415.63L114.68,415.71L114.39,415.89L114.17,416.15L114.05,416.47L114.04,416.81L114.14,417.13L114.33,417.41L114.61,417.61L114.93,417.71ZM117.85,417.93L114.93,418.49L114.61,418.59L114.33,418.79L114.14,419.07L114.04,419.39L114.05,419.73L114.17,420.05L114.39,420.31L114.68,420.49L115.01,420.57L115.34,420.54L115.65,420.41L115.9,420.18ZM117.55,417.75L116.57,420.56L116.5,420.89L116.54,421.23L116.68,421.54L116.92,421.79L117.22,421.95L117.55,422L117.88,421.95L118.18,421.79L118.42,421.54L118.56,421.23L118.6,420.89L118.53,420.56ZM117.25,417.93L119.2,420.18L119.45,420.41L119.76,420.54L120.09,420.57L120.42,420.49L120.71,420.31L120.93,420.05L121.05,419.73L121.06,419.39L120.96,419.07L120.77,418.79L120.49,418.59L120.17,418.49ZM117.25,418.28L120.17,417.71L120.49,417.61L120.77,417.41L120.96,417.13L121.06,416.81L121.05,416.47L120.93,416.15L120.71,415.89L120.42,415.71L120.09,415.63L119.76,415.66L119.45,415.79L119.2,416.02Z" fill="#000"/>
<text x="152.55" y="408" font-size="10.7" text-anchor="middle" textLength="14.7" lengthAdjust="spacingAndGlyphs">NS</text>
<rect x="115.8" y="366.5" width="9.6" height="9.2" fill="#000"/>
<rect x="116.4" y="380.3" width="8.4" height="8.3" fill="#fff" stroke="#000" stroke-width="1.2"/>
<text x="131.5" y="375.4" font-size="11.2" textLength="89.5" lengthAdjust="spacingAndGlyphs">Mutation-positives</text>
<text x="131.5" y="389" font-size="11.2" textLength="40.8" lengthAdjust="spacingAndGlyphs">Controls</text>
<text x="244.6" y="379.7" font-size="19.5" font-weight="bold">D</text>
<text x="271.4" y="444.5" font-size="11.2" text-anchor="middle" textLength="138.1" lengthAdjust="spacingAndGlyphs" transform="rotate(-90 271.4 444.5)">CIAS1 mRNA fold induction</text>
<line x1="295.2" y1="386.8" x2="295.2" y2="585" stroke-width="1.6"/>
<line x1="295.2" y1="387.3" x2="298.2" y2="387.3" stroke-width="1.6"/>
<text x="288.2" y="390.6" font-size="10.2" text-anchor="end">20</text>
<line x1="295.2" y1="413.8" x2="298.2" y2="413.8" stroke-width="1.6"/>
<text x="288.2" y="417.1" font-size="10.2" text-anchor="end">15</text>
<line x1="295.2" y1="440.3" x2="298.2" y2="440.3" stroke-width="1.6"/>
<text x="288.2" y="443.6" font-size="10.2" text-anchor="end">10</text>
<line x1="295.2" y1="466.6" x2="298.2" y2="466.6" stroke-width="1.6"/>
<text x="288.2" y="469.9" font-size="10.2" text-anchor="end">5</text>
<text x="288.2" y="496.5" font-size="10.2" text-anchor="end">0</text>
<line x1="294.5" y1="493.2" x2="409.8" y2="493.2" stroke-width="1.6"/>
<line x1="333.1" y1="490.2" x2="333.1" y2="585" stroke-width="1.6"/>
<line x1="371.4" y1="490.2" x2="371.4" y2="560.5" stroke-width="1.6"/>
<line x1="409.8" y1="490.2" x2="409.8" y2="585" stroke-width="1.6"/>
<text x="319" y="562.5" font-size="10.5" textLength="64.5" lengthAdjust="spacingAndGlyphs" transform="rotate(-90 319 562.5)">Unstimulated</text>
<text x="357" y="555.5" font-size="10.5" textLength="53" lengthAdjust="spacingAndGlyphs" transform="rotate(-90 357 555.5)">No inhibitor</text>
<text x="394.5" y="539.3" font-size="10.5" textLength="40" lengthAdjust="spacingAndGlyphs" transform="rotate(-90 394.5 539.3)">MG-132</text>
<text x="372.5" y="581" font-size="10.5" text-anchor="middle" textLength="30" lengthAdjust="spacingAndGlyphs">+cLPS</text>
<rect x="302.7" y="487.2" width="13.2" height="6" fill="#000"/>
<rect x="315.1" y="488" width="9.6" height="5.2" fill="#fff" stroke="#000" stroke-width="1.6"/>
<rect x="340.8" y="458.8" width="12.7" height="34.4" fill="#000"/>
<rect x="352.7" y="440.3" width="9.8" height="52.9" fill="#fff" stroke="#000" stroke-width="1.6"/>
<line x1="347.15" y1="458.8" x2="347.15" y2="447.6" stroke-width="1.6"/>
<line x1="342" y1="447.6" x2="352.3" y2="447.6" stroke-width="1.6"/>
<line x1="358.4" y1="440.3" x2="358.4" y2="421.1" stroke-width="1.6"/>
<line x1="353.25" y1="421.1" x2="363.55" y2="421.1" stroke-width="1.6"/>
<rect x="378.9" y="488.3" width="12.5" height="4.9" fill="#000"/>
<rect x="390.6" y="487.7" width="10.5" height="5.5" fill="#fff" stroke="#000" stroke-width="1.6"/>
<line x1="385.15" y1="488.3" x2="385.15" y2="485.7" stroke-width="1.6"/>
<line x1="380" y1="485.7" x2="390.3" y2="485.7" stroke-width="1.6"/>
<line x1="396.65" y1="487.7" x2="396.65" y2="481.3" stroke-width="1.6"/>
<line x1="391.5" y1="481.3" x2="401.8" y2="481.3" stroke-width="1.6"/>
<text x="349.7" y="416.2" font-size="10.7" text-anchor="middle" textLength="15" lengthAdjust="spacingAndGlyphs">NS</text>
<text x="393" y="475.1" font-size="10.7" text-anchor="middle" textLength="15" lengthAdjust="spacingAndGlyphs">NS</text>
<rect x="370.8" y="366.7" width="10.2" height="10" fill="#000"/>
<rect x="371.4" y="381.3" width="9" height="8.3" fill="#fff" stroke="#000" stroke-width="1.2"/>
<text x="386.9" y="375.7" font-size="11.2" textLength="89.5" lengthAdjust="spacingAndGlyphs">Mutation-positives</text>
<text x="386.9" y="389.1" font-size="11.2" textLength="40.8" lengthAdjust="spacingAndGlyphs">Controls</text>
<text x="-0.1" y="623.6" font-size="19.5" font-weight="bold">E</text>
<text x="25.8" y="680.7" font-size="11.2" text-anchor="middle" textLength="123.2" lengthAdjust="spacingAndGlyphs" transform="rotate(-90 25.8 680.7)">Relative monocyte count</text>
<line x1="53.5" y1="636" x2="53.5" y2="830" stroke-width="1.6"/>
<line x1="53.5" y1="636.5" x2="56.5" y2="636.5" stroke-width="1.6"/>
<text x="46.5" y="639.8" font-size="10.2" text-anchor="end">1.5</text>
<line x1="53.5" y1="670" x2="56.5" y2="670" stroke-width="1.6"/>
<text x="46.5" y="673.3" font-size="10.2" text-anchor="end">1</text>
<line x1="53.5" y1="702.8" x2="56.5" y2="702.8" stroke-width="1.6"/>
<text x="46.5" y="706.1" font-size="10.2" text-anchor="end">0.5</text>
<text x="46.5" y="739.7" font-size="10.2" text-anchor="end">0</text>
<line x1="52.8" y1="736.4" x2="207.7" y2="736.4" stroke-width="1.6"/>
<line x1="91.5" y1="733.4" x2="91.5" y2="830" stroke-width="1.6"/>
<line x1="130.9" y1="733.4" x2="130.9" y2="804" stroke-width="1.6"/>
<line x1="169.3" y1="733.4" x2="169.3" y2="804" stroke-width="1.6"/>
<line x1="207.7" y1="733.4" x2="207.7" y2="830" stroke-width="1.6"/>
<text x="68.7" y="804.6" font-size="10.5" textLength="61.6" lengthAdjust="spacingAndGlyphs" transform="rotate(-90 68.7 804.6)">Unstimulated</text>
<text x="82.6" y="783" font-size="10.5" textLength="18.4" lengthAdjust="spacingAndGlyphs" transform="rotate(-90 82.6 783)">n=6</text>
<text x="106.4" y="797.7" font-size="10.5" textLength="53.1" lengthAdjust="spacingAndGlyphs" transform="rotate(-90 106.4 797.7)">No inhibitor</text>
<text x="121" y="779.5" font-size="10.5" textLength="18" lengthAdjust="spacingAndGlyphs" transform="rotate(-90 121 779.5)">n=6</text>
<text x="145.3" y="792.7" font-size="10.5" textLength="51.5" lengthAdjust="spacingAndGlyphs" transform="rotate(-90 145.3 792.7)">YVAD-fmk</text>
<text x="160.8" y="776.7" font-size="10.5" textLength="18.1" lengthAdjust="spacingAndGlyphs" transform="rotate(-90 160.8 776.7)">n=4</text>
<text x="183" y="794.9" font-size="10.5" textLength="51.9" lengthAdjust="spacingAndGlyphs" transform="rotate(-90 183 794.9)">CA074-Me</text>
<text x="198.5" y="778.8" font-size="10.5" textLength="18" lengthAdjust="spacingAndGlyphs" transform="rotate(-90 198.5 778.8)">n=5</text>
<text x="150.5" y="823.1" font-size="10.5" text-anchor="middle" textLength="32" lengthAdjust="spacingAndGlyphs">+cLPS</text>
<rect x="59.7" y="669.6" width="14.6" height="66.8" fill="#000"/>
<rect x="73.5" y="670.4" width="11.2" height="66" fill="#fff" stroke="#000" stroke-width="1.6"/>
<rect x="97.8" y="720.8" width="14.5" height="15.6" fill="#000"/>
<rect x="111.5" y="678.2" width="12.7" height="58.2" fill="#fff" stroke="#000" stroke-width="1.6"/>
<line x1="105.05" y1="720.8" x2="105.05" y2="708.2" stroke-width="1.6"/>
<line x1="99.25" y1="708.2" x2="110.85" y2="708.2" stroke-width="1.6"/>
<line x1="118.65" y1="678.2" x2="118.65" y2="672.6" stroke-width="1.6"/>
<line x1="113" y1="672.6" x2="124.3" y2="672.6" stroke-width="1.6"/>
<rect x="137.3" y="716.2" width="14.3" height="20.2" fill="#000"/>
<rect x="150.8" y="679.3" width="11.6" height="57.1" fill="#fff" stroke="#000" stroke-width="1.6"/>
<line x1="144.45" y1="716.2" x2="144.45" y2="702" stroke-width="1.6"/>
<line x1="138.65" y1="702" x2="150.25" y2="702" stroke-width="1.6"/>
<line x1="157.4" y1="679.3" x2="157.4" y2="670" stroke-width="1.6"/>
<line x1="151.35" y1="670" x2="163.45" y2="670" stroke-width="1.6"/>
<rect x="175.8" y="678.2" width="13.9" height="58.2" fill="#000"/>
<rect x="188.9" y="685" width="11.5" height="51.4" fill="#fff" stroke="#000" stroke-width="1.6"/>
<line x1="182.75" y1="678.2" x2="182.75" y2="658.5" stroke-width="1.6"/>
<line x1="176.85" y1="658.5" x2="188.65" y2="658.5" stroke-width="1.6"/>
<line x1="195.45" y1="685" x2="195.45" y2="676.6" stroke-width="1.6"/>
<line x1="189.65" y1="676.6" x2="201.25" y2="676.6" stroke-width="1.6"/>
<path d="M105.12,663.25L106.11,660.21L106.17,659.88L106.13,659.55L105.99,659.25L105.75,659.01L105.46,658.85L105.12,658.8L104.79,658.85L104.5,659.01L104.26,659.25L104.12,659.55L104.08,659.88L104.14,660.21ZM105.43,663.07L103.29,660.7L103.04,660.48L102.73,660.35L102.39,660.33L102.07,660.41L101.79,660.59L101.57,660.85L101.46,661.16L101.44,661.5L101.53,661.82L101.72,662.1L101.99,662.3L102.3,662.41ZM105.43,662.73L102.3,663.39L101.99,663.5L101.72,663.7L101.53,663.98L101.44,664.3L101.46,664.64L101.57,664.95L101.79,665.21L102.07,665.39L102.39,665.47L102.73,665.45L103.04,665.32L103.29,665.1ZM105.12,662.55L104.14,665.59L104.08,665.92L104.12,666.25L104.26,666.55L104.5,666.79L104.79,666.95L105.12,667L105.46,666.95L105.75,666.79L105.99,666.55L106.13,666.25L106.17,665.92L106.11,665.59ZM104.82,662.73L106.96,665.1L107.21,665.32L107.52,665.45L107.86,665.47L108.18,665.39L108.46,665.21L108.68,664.95L108.79,664.64L108.81,664.3L108.72,663.98L108.53,663.7L108.26,663.5L107.95,663.39ZM104.82,663.07L107.95,662.41L108.26,662.3L108.53,662.1L108.72,661.82L108.81,661.5L108.79,661.16L108.68,660.85L108.46,660.59L108.18,660.41L107.86,660.33L107.52,660.35L107.21,660.48L106.96,660.7Z" fill="#000"/>
<path d="M116.47,663.25L117.46,660.21L117.52,659.88L117.48,659.55L117.34,659.25L117.1,659.01L116.81,658.85L116.47,658.8L116.14,658.85L115.85,659.01L115.61,659.25L115.47,659.55L115.43,659.88L115.49,660.21ZM116.78,663.07L114.64,660.7L114.39,660.48L114.08,660.35L113.74,660.33L113.42,660.41L113.14,660.59L112.92,660.85L112.81,661.16L112.79,661.5L112.88,661.82L113.07,662.1L113.34,662.3L113.65,662.41ZM116.78,662.73L113.65,663.39L113.34,663.5L113.07,663.7L112.88,663.98L112.79,664.3L112.81,664.64L112.92,664.95L113.14,665.21L113.42,665.39L113.74,665.47L114.08,665.45L114.39,665.32L114.64,665.1ZM116.47,662.55L115.49,665.59L115.43,665.92L115.47,666.25L115.61,666.55L115.85,666.79L116.14,666.95L116.47,667L116.81,666.95L117.1,666.79L117.34,666.55L117.48,666.25L117.52,665.92L117.46,665.59ZM116.17,662.73L118.31,665.1L118.56,665.32L118.87,665.45L119.21,665.47L119.53,665.39L119.81,665.21L120.03,664.95L120.14,664.64L120.16,664.3L120.07,663.98L119.88,663.7L119.61,663.5L119.3,663.39ZM116.17,663.07L119.3,662.41L119.61,662.3L119.88,662.1L120.07,661.82L120.16,661.5L120.14,661.16L120.03,660.85L119.81,660.59L119.53,660.41L119.21,660.33L118.87,660.35L118.56,660.48L118.31,660.7Z" fill="#000"/>
<path d="M143.9,660.5L144.88,657.52L144.95,657.19L144.91,656.85L144.76,656.55L144.53,656.31L144.23,656.15L143.9,656.1L143.57,656.15L143.27,656.31L143.04,656.55L142.89,656.85L142.85,657.19L142.92,657.52ZM144.2,660.33L142.11,657.98L141.86,657.76L141.55,657.63L141.21,657.6L140.89,657.68L140.61,657.86L140.39,658.13L140.27,658.44L140.26,658.77L140.35,659.1L140.54,659.37L140.81,659.58L141.13,659.69ZM144.2,659.98L141.13,660.61L140.81,660.72L140.54,660.93L140.35,661.2L140.26,661.53L140.27,661.86L140.39,662.18L140.61,662.44L140.89,662.62L141.21,662.7L141.55,662.67L141.86,662.54L142.11,662.32ZM143.9,659.8L142.92,662.78L142.85,663.11L142.89,663.45L143.04,663.75L143.27,663.99L143.57,664.15L143.9,664.2L144.23,664.15L144.53,663.99L144.76,663.75L144.91,663.45L144.95,663.11L144.88,662.78ZM143.6,659.98L145.69,662.32L145.94,662.54L146.25,662.67L146.59,662.7L146.91,662.62L147.19,662.44L147.41,662.18L147.53,661.86L147.54,661.53L147.45,661.2L147.26,660.93L146.99,660.72L146.67,660.61ZM143.6,660.33L146.67,659.69L146.99,659.58L147.26,659.37L147.45,659.1L147.54,658.77L147.53,658.44L147.41,658.13L147.19,657.86L146.91,657.68L146.59,657.6L146.25,657.63L145.94,657.76L145.69,657.98Z" fill="#000"/>
<path d="M155,660.5L155.98,657.52L156.05,657.19L156.01,656.85L155.86,656.55L155.63,656.31L155.33,656.15L155,656.1L154.67,656.15L154.37,656.31L154.14,656.55L153.99,656.85L153.95,657.19L154.02,657.52ZM155.3,660.33L153.21,657.98L152.96,657.76L152.65,657.63L152.31,657.6L151.99,657.68L151.71,657.86L151.49,658.13L151.37,658.44L151.36,658.77L151.45,659.1L151.64,659.37L151.91,659.58L152.23,659.69ZM155.3,659.98L152.23,660.61L151.91,660.72L151.64,660.93L151.45,661.2L151.36,661.53L151.37,661.86L151.49,662.18L151.71,662.44L151.99,662.62L152.31,662.7L152.65,662.67L152.96,662.54L153.21,662.32ZM155,659.8L154.02,662.78L153.95,663.11L153.99,663.45L154.14,663.75L154.37,663.99L154.67,664.15L155,664.2L155.33,664.15L155.63,663.99L155.86,663.75L156.01,663.45L156.05,663.11L155.98,662.78ZM154.7,659.98L156.79,662.32L157.04,662.54L157.35,662.67L157.69,662.7L158.01,662.62L158.29,662.44L158.51,662.18L158.63,661.86L158.64,661.53L158.55,661.2L158.36,660.93L158.09,660.72L157.77,660.61ZM154.7,660.33L157.77,659.69L158.09,659.58L158.36,659.37L158.55,659.1L158.64,658.77L158.63,658.44L158.51,658.13L158.29,657.86L158.01,657.68L157.69,657.6L157.35,657.63L157.04,657.76L156.79,657.98Z" fill="#000"/>
<text x="188.7" y="654.4" font-size="10.7" text-anchor="middle" textLength="14.8" lengthAdjust="spacingAndGlyphs">NS</text>
<rect x="115.6" y="609.4" width="10" height="10" fill="#000"/>
<rect x="116.2" y="624.3" width="8.8" height="7.9" fill="#fff" stroke="#000" stroke-width="1.2"/>
<text x="131.8" y="618.3" font-size="11.2" textLength="89.5" lengthAdjust="spacingAndGlyphs">Mutation-positives</text>
<text x="131.8" y="631.8" font-size="11.2" textLength="40.8" lengthAdjust="spacingAndGlyphs">Controls</text>
<text x="244.3" y="623.8" font-size="19.5" font-weight="bold">F</text>
<text x="270.9" y="686.7" font-size="11.2" text-anchor="middle" textLength="138.1" lengthAdjust="spacingAndGlyphs" transform="rotate(-90 270.9 686.7)">CIAS1 mRNA fold induction</text>
<line x1="295.2" y1="628.5" x2="295.2" y2="830" stroke-width="1.6"/>
<line x1="295.2" y1="629" x2="298.2" y2="629" stroke-width="1.6"/>
<text x="287.9" y="632.3" font-size="10.2" text-anchor="end">20</text>
<line x1="295.2" y1="655.6" x2="298.2" y2="655.6" stroke-width="1.6"/>
<text x="287.9" y="658.9" font-size="10.2" text-anchor="end">15</text>
<line x1="295.2" y1="682.2" x2="298.2" y2="682.2" stroke-width="1.6"/>
<text x="287.9" y="685.5" font-size="10.2" text-anchor="end">10</text>
<line x1="295.2" y1="708.8" x2="298.2" y2="708.8" stroke-width="1.6"/>
<text x="287.9" y="712.1" font-size="10.2" text-anchor="end">5</text>
<text x="287.9" y="738.6" font-size="10.2" text-anchor="end">0</text>
<line x1="294.5" y1="735.3" x2="447.8" y2="735.3" stroke-width="1.6"/>
<line x1="333.1" y1="732.3" x2="333.1" y2="830" stroke-width="1.6"/>
<line x1="371.3" y1="732.3" x2="371.3" y2="802.6" stroke-width="1.6"/>
<line x1="409.5" y1="732.3" x2="409.5" y2="802.6" stroke-width="1.6"/>
<line x1="447.8" y1="732.3" x2="447.8" y2="830" stroke-width="1.6"/>
<text x="319.5" y="803.5" font-size="10.5" textLength="62" lengthAdjust="spacingAndGlyphs" transform="rotate(-90 319.5 803.5)">Unstimulated</text>
<text x="356.4" y="796.5" font-size="10.5" textLength="53.4" lengthAdjust="spacingAndGlyphs" transform="rotate(-90 356.4 796.5)">No inhibitor</text>
<text x="394.8" y="792.8" font-size="10.5" textLength="53.6" lengthAdjust="spacingAndGlyphs" transform="rotate(-90 394.8 792.8)">YVAD-fmk</text>
<text x="433.3" y="794.7" font-size="10.5" textLength="51.7" lengthAdjust="spacingAndGlyphs" transform="rotate(-90 433.3 794.7)">CA074-Me</text>
<text x="390.8" y="822.2" font-size="10.5" text-anchor="middle" textLength="30.4" lengthAdjust="spacingAndGlyphs">+cLPS</text>
<rect x="302.7" y="729.2" width="13" height="6.1" fill="#000"/>
<rect x="314.9" y="730" width="9.5" height="5.3" fill="#fff" stroke="#000" stroke-width="1.6"/>
<rect x="341.1" y="700.8" width="12.5" height="34.5" fill="#000"/>
<rect x="352.8" y="682.3" width="10.1" height="53" fill="#fff" stroke="#000" stroke-width="1.6"/>
<line x1="347.35" y1="700.8" x2="347.35" y2="689.6" stroke-width="1.6"/>
<line x1="342.2" y1="689.6" x2="352.5" y2="689.6" stroke-width="1.6"/>
<line x1="358.65" y1="682.3" x2="358.65" y2="663.3" stroke-width="1.6"/>
<line x1="353.45" y1="663.3" x2="363.85" y2="663.3" stroke-width="1.6"/>
<rect x="378.8" y="699.4" width="12.9" height="35.9" fill="#000"/>
<rect x="390.9" y="675.2" width="10" height="60.1" fill="#fff" stroke="#000" stroke-width="1.6"/>
<line x1="385.25" y1="699.4" x2="385.25" y2="684.4" stroke-width="1.6"/>
<line x1="380.05" y1="684.4" x2="390.45" y2="684.4" stroke-width="1.6"/>
<line x1="396.7" y1="675.2" x2="396.7" y2="647.5" stroke-width="1.6"/>
<line x1="391.25" y1="647.5" x2="402.15" y2="647.5" stroke-width="1.6"/>
<rect x="416.9" y="700.8" width="12.8" height="34.5" fill="#000"/>
<rect x="428.9" y="691" width="9.9" height="44.3" fill="#fff" stroke="#000" stroke-width="1.6"/>
<line x1="423.3" y1="700.8" x2="423.3" y2="671.5" stroke-width="1.6"/>
<line x1="417.7" y1="671.5" x2="428.9" y2="671.5" stroke-width="1.6"/>
<line x1="434.65" y1="691" x2="434.65" y2="668.7" stroke-width="1.6"/>
<line x1="429.45" y1="668.7" x2="439.85" y2="668.7" stroke-width="1.6"/>
<text x="350.1" y="659.8" font-size="10.7" text-anchor="middle" textLength="14.6" lengthAdjust="spacingAndGlyphs">NS</text>
<text x="387.7" y="644.8" font-size="10.7" text-anchor="middle" textLength="14.8" lengthAdjust="spacingAndGlyphs">NS</text>
<text x="426.1" y="663.6" font-size="10.7" text-anchor="middle" textLength="14.6" lengthAdjust="spacingAndGlyphs">NS</text>
<rect x="370.2" y="608.9" width="10" height="9.9" fill="#000"/>
<rect x="370.8" y="623.5" width="8.8" height="8.2" fill="#fff" stroke="#000" stroke-width="1.2"/>
<text x="386.4" y="617.9" font-size="11.2" textLength="89.5" lengthAdjust="spacingAndGlyphs">Mutation-positives</text>
<text x="386.4" y="631.4" font-size="11.2" textLength="40.8" lengthAdjust="spacingAndGlyphs">Controls</text>
</svg>
</body></html>
